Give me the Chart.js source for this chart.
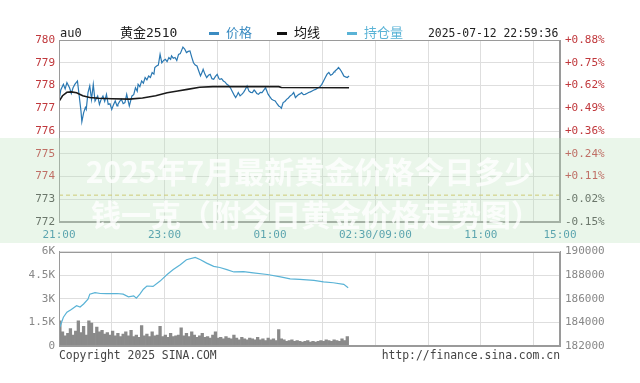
<!DOCTYPE html>
<html>
<head>
<meta charset="utf-8">
<script src="https://cdn.jsdelivr.net/npm/chart.js@4/dist/chart.umd.min.js"></script>
<style>
html,body{margin:0;padding:0;background:#fff;}
#wrap{position:relative;width:640px;height:383px;overflow:hidden;background:#fff;}
canvas{position:absolute;left:0;}
.t{position:absolute;white-space:nowrap;font-family:"DejaVu Sans Mono","Noto Sans CJK SC",monospace;font-size:11.4px;line-height:14px;color:#222;}
.cjk{font-family:"DejaVu Sans Mono","Noto Sans CJK SC",sans-serif;font-size:13px;}
.dash{position:absolute;height:3px;width:10px;}
#band{position:absolute;left:0;top:138px;width:640px;height:105px;background:rgba(190,228,190,0.32);z-index:5;}
.wm{position:absolute;white-space:nowrap;font-family:"Noto Sans CJK SC",sans-serif;font-weight:bold;font-size:30px;line-height:34px;color:rgba(255,255,255,0.82);z-index:6;transform:translateX(-50%);}
</style>
</head>
<body>
<div id="wrap">
  <canvas id="top" width="640" height="240" style="top:0;width:640px;height:240px"></canvas>
  <canvas id="bot" width="640" height="143" style="top:240px;width:640px;height:143px"></canvas>

  <div class="t" style="left:60px;top:26px;font-size:12px;">au0</div>
  <div class="t cjk" style="left:120px;top:26px;">黄金2510</div>
  <div class="dash" style="left:209px;top:32px;background:#3b8cc2;"></div>
  <div class="t cjk" style="left:226px;top:26px;color:#3b8cc2;">价格</div>
  <div class="dash" style="left:277px;top:32px;background:#111;"></div>
  <div class="t cjk" style="left:294px;top:26px;color:#111;">均线</div>
  <div class="dash" style="left:347px;top:32px;background:#5ab3d6;"></div>
  <div class="t cjk" style="left:364px;top:26px;color:#5ab3d6;">持仓量</div>
  <div class="t" style="left:428px;top:26px;">2025-07-12 22:59:36</div>

  <div class="t" style="left:59px;top:348px;color:#444;">Copyright 2025 SINA.COM</div>
  <div class="t" style="right:80px;top:348px;color:#444;">http://finance.sina.com.cn</div>

  <div id="band"></div>
  <div class="wm" style="left:310px;top:153px;">2025年7月最新黄金价格今日多少</div>
  <div class="wm" style="left:316px;top:196px;">钱一克（附今日黄金价格走势图）</div>
</div>

<script>
// ---------- data ----------
const prevClose = 773.18;

const gridMinutes = [0,60,120,180,240,300,360,420,480,540,570];
const timeLabelMinutes = [0,120,240,360,480,570];
const timeLabels = ['21:00','23:00','01:00','02:30/09:00','11:00','15:00'];

const priceTickValues = [772,773,774,775,776,777,778,779,780];
const pctLabels = ['-0.15%','-0.02%','+0.11%','+0.24%','+0.36%','+0.49%','+0.62%','+0.75%','+0.88%'];

const volTickValues = [0,1500,3000,4500,6000];
const volTickLabels = ['0','1.5K','3K','4.5K','6K'];
const oiTickValues = [182000,184000,186000,188000,190000];
const oiTickLabels = ['182000','184000','186000','188000','190000'];

const priceMinutes = [0,2,5,7,9,12,14,16,18,21,23,25,26,28,30,31,33,35,37,39,41,44,46,48,50,52,54,56,58,60,
  62,64,66,67,69,71,73,75,77,80,83,85,87,89,90,92,94,96,98,100,102,104,106,108,109,111,113,115,117,119,
  121,123,125,127,128,130,132,134,136,138,141,143,145,147,149,151,153,155,157,159,161,163,164,166,168,170,172,174,176,178,
  180,182,183,185,187,189,191,193,195,197,199,201,203,204,206,208,210,212,214,216,218,220,222,223,225,227,229,231,233,235,
  237,238,240,242,244,246,248,250,252,253,255,257,259,261,263,265,267,269,271,273,275,276,278,280,282,284,286,288,290,292,
  294,295,297,299,301,303,305,307,309,311,313,314,316,318,320,321,323,324,326,328,330];
const priceValues = [777.35,777.8,778.05,777.85,778.13,777.9,777.65,777.9,778.05,778.2,777.54,776.88,776.41,776.8,777.04,776.95,777.69,777.98,777.39,778.05,
  777.32,777.54,777.17,777.4,777.54,777.3,777.61,777.17,777.2,776.95,
  777.15,777.32,777.1,777.17,777.3,777.39,777.2,777.25,777.61,777.1,777.54,777.6,777.9,777.75,778.05,777.95,778.2,778.1,778.35,778.25,
  778.42,778.35,778.57,778.5,778.79,778.86,778.9,779.37,779.0,779.1,
  779.15,779.05,779.23,779.15,779.3,779.2,779.23,779.1,779.37,779.4,779.69,779.6,779.45,779.5,779.52,779.25,779.0,778.9,778.86,778.64,
  778.42,778.6,778.71,778.5,778.35,778.45,778.49,778.3,778.27,778.4,
  778.49,778.3,778.27,778.3,778.2,778.15,778.05,778.0,777.9,777.75,777.6,777.47,777.6,777.69,777.55,777.61,777.7,777.83,777.98,777.76,
  777.7,777.69,777.8,777.76,777.65,777.61,777.7,777.69,777.8,777.9,
  777.7,777.61,777.5,777.39,777.35,777.32,777.2,777.1,777.05,777.0,777.25,777.3,777.39,777.45,777.54,777.6,777.69,777.47,777.55,777.61,
  777.65,777.69,777.6,777.61,777.65,777.69,777.72,777.76,777.8,777.83,
  777.88,777.9,777.95,778.05,778.2,778.35,778.5,778.57,778.45,778.49,778.6,778.64,778.7,778.79,778.7,778.64,778.5,778.42,778.38,778.35,778.42];

const avgMinutes = [0,4,9,14,20,27,35,45,60,80,95,110,123,135,146,160,175,220,250,253,330];
const avgValues  = [777.3,777.55,777.7,777.72,777.68,777.55,777.47,777.44,777.42,777.4,777.45,777.55,777.68,777.76,777.83,777.92,777.95,777.95,777.95,777.91,777.9];

const oiMinutes = [1,5,9,14,20,24,28,33,35,41,47,54,66,73,79,85,88,92,96,100,107,115,123,130,138,145,155,161,168,176,
  183,191,199,210,221,237,252,263,274,290,301,312,324,329];
const oiValues = [183608,184442,184858,185100,185417,185300,185558,185975,186392,186525,186450,186442,186450,186392,186167,186250,186058,186400,186808,187083,
  187050,187500,188058,188475,188892,189308,189500,189308,189025,188750,
  188650,188475,188275,188300,188192,188058,187858,187692,187650,187558,187442,187358,187225,186942];

const volMinutes = [1,4,7,10,13,16,19,22,25,28,31,34,37,40,43,46,49,52,55,58,61,64,67,70,73,76,79,82,85,88,
  91,94,97,100,103,106,109,112,115,118,121,124,127,130,133,136,139,142,145,148,151,154,157,160,163,166,169,172,175,178,
  181,184,187,190,193,196,199,202,205,208,211,214,217,220,223,226,229,232,235,238,241,244,247,250,253,256,259,262,265,268,
  271,274,277,280,283,286,289,292,295,298,301,304,307,310,313,316,319,322,325,328];
const volValues = [1600,900,650,800,1100,700,950,1600,850,1250,700,1600,1450,800,1200,900,1000,750,850,700,
  950,650,800,600,750,900,650,1000,600,700,
  550,1300,650,750,600,900,650,700,1250,600,700,550,800,600,650,700,1150,650,800,600,
  900,700,550,650,800,550,600,500,700,900,
  500,550,450,600,500,450,700,500,400,550,450,400,500,450,400,550,400,450,350,500,
  400,450,350,1050,450,400,300,350,400,300,
  350,300,250,300,350,250,300,250,300,350,300,400,350,300,400,350,300,450,350,600];

// ---------- drawing ----------
const MONO = '"DejaVu Sans Mono", monospace';
const boxPlugin = {
  id:'box',
  afterDraw(chart){
    const a = chart.chartArea, c = chart.ctx;
    c.save();
    c.strokeStyle = '#9a9a9a';
    c.lineWidth = 1;
    c.strokeRect(Math.round(a.left)+0.5, Math.round(a.top)+0.5, Math.round(a.right-a.left)-1, Math.round(a.bottom-a.top)-1);
    c.restore();
  }
};
const xs = (mins, vals) => mins.map((m,i)=>({x:m, y:vals[i]}));
const setTicks = vals => s => { s.ticks = vals.map(v=>({value:v})); };

new Chart(document.getElementById('top'), {
  data:{datasets:[
    {type:'line', label:'昨结', data:[{x:0,y:prevClose},{x:570,y:prevClose}], borderColor:'#d4bf55', borderDash:[4,3], borderWidth:1, pointRadius:0},
    {type:'line', label:'均线', data:xs(avgMinutes,avgValues), borderColor:'#1a1a1a', borderWidth:1.6, pointRadius:0, tension:0},
    {type:'line', label:'价格', data:xs(priceMinutes,priceValues), borderColor:'#2a78b2', borderWidth:1.2, pointRadius:0, tension:0}
  ]},
  options:{
    responsive:false, animation:false, devicePixelRatio:1,
    layout:{padding:{top:40,left:0,right:0,bottom:0}},
    plugins:{legend:{display:false}, tooltip:{enabled:false}},
    scales:{
      x:{type:'linear', min:0, max:570, afterBuildTicks:setTicks(gridMinutes),
         afterFit:s=>{s.height=18;},
         grid:{color:'#dedede', drawTicks:false}, border:{color:'#9a9a9a'},
         ticks:{autoSkip:false, maxRotation:0, padding:7, color:'#2f88a8', font:{family:MONO,size:11},
                callback:v=>{const i=timeLabelMinutes.indexOf(v); return i>=0?timeLabels[i]:'';}}},
      y:{position:'left', min:772, max:780, afterBuildTicks:setTicks(priceTickValues),
         afterFit:s=>{s.width=59;},
         grid:{color:'#dedede', drawTicks:false}, border:{color:'#9a9a9a'},
         ticks:{padding:4, font:{family:MONO,size:11},
                color:c=> c.tick.value>prevClose ? '#c0383c' : '#444'}},
      y2:{position:'right', min:772, max:780, afterBuildTicks:setTicks(priceTickValues),
         afterFit:s=>{s.width=80;},
         grid:{display:false, drawTicks:false}, border:{color:'#9a9a9a'},
         ticks:{padding:5, font:{family:MONO,size:11},
                color:c=> c.tick.value>prevClose ? '#c0383c' : '#444',
                callback:v=>pctLabels[priceTickValues.indexOf(v)]}}
    }
  },
  plugins:[boxPlugin]
});

new Chart(document.getElementById('bot'), {
  data:{datasets:[
    {type:'line', label:'持仓量', data:xs(oiMinutes,oiValues), yAxisID:'y2', borderColor:'#5ab3d6', borderWidth:1.2, pointRadius:0, tension:0},
    {type:'bar', label:'成交量', data:xs(volMinutes,volValues), yAxisID:'y', backgroundColor:'#8a8a8a', barPercentage:1, categoryPercentage:1, borderWidth:0}
  ]},
  options:{
    responsive:false, animation:false, devicePixelRatio:1,
    layout:{padding:{top:10,left:0,right:0,bottom:37}},
    plugins:{legend:{display:false}, tooltip:{enabled:false}},
    scales:{
      x:{type:'linear', min:0, max:570, offset:false, afterBuildTicks:setTicks(gridMinutes),
         afterFit:s=>{s.height=0;},
         grid:{color:'#dedede', drawTicks:false, offset:false}, border:{color:'#9a9a9a'},
         ticks:{display:false}},
      y:{position:'left', min:0, max:6000, afterBuildTicks:setTicks(volTickValues),
         afterFit:s=>{s.width=59;},
         grid:{color:'#dedede', drawTicks:false}, border:{color:'#9a9a9a'},
         ticks:{padding:4, font:{family:MONO,size:11}, color:'#888',
                callback:v=>volTickLabels[volTickValues.indexOf(v)]}},
      y2:{position:'right', min:182000, max:190000, afterBuildTicks:setTicks(oiTickValues),
         afterFit:s=>{s.width=80;},
         grid:{display:false, drawTicks:false}, border:{color:'#9a9a9a'},
         ticks:{padding:5, font:{family:MONO,size:11}, color:'#888',
                callback:v=>oiTickLabels[oiTickValues.indexOf(v)]}}
    }
  },
  plugins:[boxPlugin]
});
</script>
</body>
</html>
